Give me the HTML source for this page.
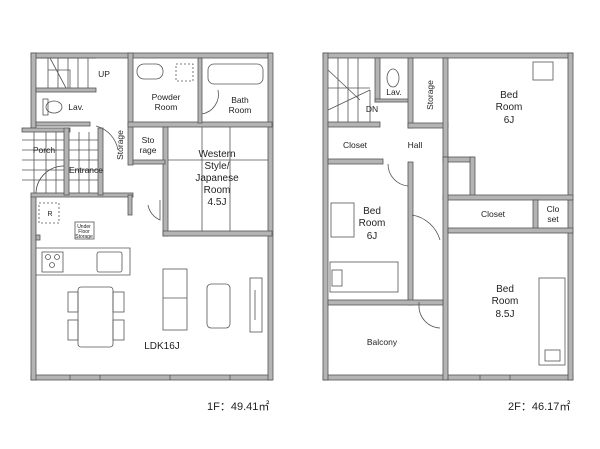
<!DOCTYPE html>
<html><head><meta charset="utf-8"><style>
html,body{margin:0;padding:0;background:#fff;}
svg{display:block;}
text{font-family:"Liberation Sans",sans-serif;fill:#222;}
</style></head><body>
<svg width="600" height="449" viewBox="0 0 600 449" xmlns="http://www.w3.org/2000/svg">
<g fill="#b4b4b4" stroke="#555" stroke-width="0.8">
<!-- 1F outer walls -->
<rect x="31" y="53" width="241" height="5"/>
<rect x="31" y="375" width="241" height="5"/>
<rect x="268" y="53" width="5" height="327"/>
<rect x="31" y="195" width="5" height="185"/>
<rect x="31" y="53" width="5" height="75"/>
<!-- 1F interior -->
<rect x="36" y="88" width="60" height="4"/>
<rect x="36" y="122" width="54" height="4"/>
<rect x="128" y="53" width="5" height="112"/>
<rect x="128" y="122" width="144" height="5"/>
<rect x="198" y="58" width="4" height="65"/>
<rect x="163" y="127" width="5" height="109"/>
<rect x="133" y="160" width="32" height="4"/>
<rect x="163" y="231" width="109" height="5"/>
<rect x="31" y="193" width="102" height="4"/>
<rect x="128" y="195" width="4" height="20"/>
<rect x="22" y="128" width="48" height="4"/>
<rect x="64" y="128" width="5" height="67"/>
<rect x="98" y="128" width="5" height="67"/>
<rect x="36" y="235" width="4" height="5"/>
<!-- 2F outer walls -->
<rect x="323" y="53" width="250" height="5"/>
<rect x="323" y="375" width="250" height="5"/>
<rect x="323" y="53" width="5" height="327"/>
<rect x="568" y="53" width="5" height="327"/>
<!-- 2F interior -->
<rect x="328" y="122" width="52" height="5"/>
<rect x="375" y="58" width="5" height="44"/>
<rect x="375" y="99" width="34" height="3"/>
<rect x="408" y="58" width="5" height="70"/>
<rect x="408" y="123" width="40" height="5"/>
<rect x="443" y="58" width="5" height="100"/>
<rect x="443" y="157" width="30" height="5"/>
<rect x="470" y="157" width="5" height="42"/>
<rect x="443" y="195" width="130" height="5"/>
<rect x="443" y="157" width="5" height="223"/>
<rect x="328" y="159" width="55" height="5"/>
<rect x="408" y="162" width="5" height="143"/>
<rect x="328" y="300" width="115" height="5"/>
<rect x="533" y="200" width="5" height="30"/>
<rect x="448" y="228" width="125" height="5"/>
</g>
<g fill="none" stroke="#555" stroke-width="0.8">
<!-- stairs 1F -->
<path d="M36 58 L96 58 M48 58 V88 M58 58 V88 M68 58 V88 M78 58 V88 M88 58 V88 M50 58 L66 88 M48 70 H70 L70 88"/>
<!-- lav 1F -->
<ellipse cx="54" cy="107" rx="8" ry="6"/><rect x="43" y="99" width="5" height="16"/>
<path d="M96 126 A30 30 0 0 1 118 150"/>
<!-- porch/entrance grid -->
<path d="M22 140 H64 M22 150 H64 M22 160 H64 M22 170 H64 M22 180 H64 M34 132 V193 M46 132 V193 M56 132 V193 M69 140 H98 M69 150 H98 M69 160 H98 M69 170 H98 M69 180 H98 M79 132 V193 M89 132 V193"/>
<path d="M64 166 A28 28 0 0 0 36 193" stroke="#444"/>
<!-- powder -->
<rect x="137" y="64" width="26" height="15" rx="7"/>
<rect x="176" y="64" width="17" height="17" stroke-dasharray="2 2"/>
<path d="M218 90 A20 20 0 0 1 202 114"/>
<rect x="208" y="64" width="55" height="20" rx="6"/>
<!-- western room lines -->
<path d="M168 160 H268 M202 127 V231 M230 127 V231"/>
<path d="M148 205 A20 20 0 0 0 160 220 V200"/>
<!-- ldk -->
<rect x="39" y="203" width="20" height="20" stroke-dasharray="2 2"/>
<rect x="75" y="222" width="19" height="17"/>
<path d="M36 248 H130 V275 H70 M36 275 H70"/>
<rect x="42" y="252" width="21" height="20"/>
<circle cx="48" cy="257" r="2.5"/><circle cx="57" cy="257" r="2.5"/><circle cx="52" cy="265" r="2.5"/>
<rect x="97" y="252" width="25" height="20" rx="2"/>
<rect x="78" y="287" width="35" height="60" rx="3"/>
<rect x="68" y="292" width="10" height="20"/><rect x="68" y="320" width="10" height="20"/>
<rect x="113" y="292" width="11" height="20"/><rect x="113" y="320" width="11" height="20"/>
<rect x="163" y="269" width="24" height="61"/><path d="M163 298 H187"/>
<rect x="207" y="284" width="23" height="44" rx="4"/>
<rect x="250" y="278" width="12" height="54"/><path d="M255 290 V320"/>
<path d="M70 375 V380 M100 375 V380 M170 375 V380 M230 375 V380"/>
<!-- 2F stairs -->
<path d="M338 58 V122 M348 58 V122 M358 58 V122 M328 88 H370 M328 70 L360 100 M328 110 L370 90 M358 100 V122 M370 90 V122"/>
<ellipse cx="393" cy="78" rx="6" ry="9"/>
<path d="M412 215 A35 35 0 0 1 440 240"/>
<path d="M388 164 A22 22 0 0 0 408 186"/>
<rect x="533" y="62" width="20" height="18"/>
<rect x="331" y="203" width="23" height="34"/>
<rect x="330" y="262" width="68" height="30"/>
<rect x="332" y="270" width="10" height="16"/>
<path d="M419 302 V308 M419 305 A22 22 0 0 0 440 328"/>
<rect x="539" y="278" width="26" height="87"/>
<rect x="545" y="350" width="15" height="11"/>
<path d="M448 378 V380 M480 375 V380 M510 375 V380"/>
</g>
<g font-size="8.5" text-anchor="middle">
<text x="104" y="77">UP</text>
<text x="76" y="110">Lav.</text>
<text x="166" y="100">Powder</text><text x="166" y="110">Room</text>
<text x="240" y="103">Bath</text><text x="240" y="113">Room</text>
<text x="148" y="143">Sto</text><text x="148" y="153">rage</text>
<text x="44" y="153">Porch</text>
<text x="86" y="173">Entrance</text>
<text x="120" y="148" transform="rotate(-90 120 145)">Storage</text>
<text x="217" y="157" font-size="10">Western</text>
<text x="217" y="169" font-size="10">Style/</text>
<text x="217" y="181" font-size="10">Japanese</text>
<text x="217" y="193" font-size="10">Room</text>
<text x="217" y="205" font-size="10">4.5J</text>
<text x="50" y="216" font-size="7">R</text>
<text x="84" y="228" font-size="5">Under</text><text x="84" y="233" font-size="5">Floor</text><text x="84" y="238" font-size="5">Storage</text>
<text x="162" y="349" font-size="10">LDK16J</text>
<text x="394" y="95">Lav.</text>
<text x="372" y="112">DN</text>
<text x="430" y="98" transform="rotate(-90 430 95)">Storage</text>
<text x="509" y="98" font-size="10">Bed</text><text x="509" y="110" font-size="10">Room</text><text x="509" y="123" font-size="10">6J</text>
<text x="355" y="148">Closet</text>
<text x="415" y="148">Hall</text>
<text x="372" y="214" font-size="10">Bed</text><text x="372" y="226" font-size="10">Room</text><text x="372" y="239" font-size="10">6J</text>
<text x="493" y="217">Closet</text>
<text x="553" y="212">Clo</text><text x="553" y="222">set</text>
<text x="505" y="292" font-size="10">Bed</text><text x="505" y="304" font-size="10">Room</text><text x="505" y="317" font-size="10">8.5J</text>
<text x="382" y="345">Balcony</text>
</g>
<text x="207" y="410" font-size="11">1F：49.41㎡</text>
<text x="508" y="410" font-size="11">2F：46.17㎡</text>
</svg>
</body></html>
